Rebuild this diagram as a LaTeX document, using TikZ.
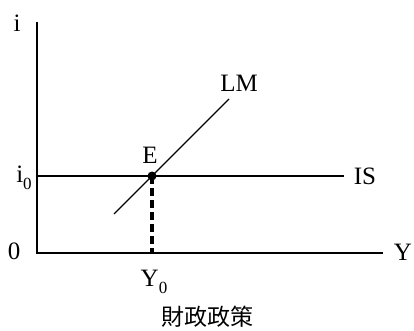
\documentclass[tikz,border=0pt]{standalone}
\usepackage{fontspec}
\setmainfont{Liberation Serif}
\newfontfamily\cjk{Noto Sans CJK TC}
\newcommand{\subz}{\raisebox{-0.28em}{\fontsize{17}{17}\selectfont 0}}
\begin{document}
\begin{tikzpicture}[x=1pt,y=-1pt,
  lbl/.style={font=\fontsize{25}{27}\selectfont, inner sep=0pt},
  axis/.style={line width=2pt},
  curve/.style={line width=1.3pt},
  guide/.style={line width=4pt, dash pattern=on 8pt off 4pt}]
\useasboundingbox (0,0) rectangle (414,331);
\coordinate (top) at (37,22);
\coordinate (O) at (37,253);
\coordinate (xend) at (383,253);
\draw[axis] (top) -- (O) -- (xend);
\coordinate (isL) at (37,176);
\coordinate (isR) at (344,176);
\draw[curve] (isL) -- (isR);
\coordinate (lmA) at (114,214);
\coordinate (lmB) at (229,99);
\draw[curve] (lmA) -- (lmB);
\coordinate (E) at (152,176);
\coordinate (Y0) at (152,253);
\draw[guide] (E) -- (Y0);
\fill (E) circle (4.5pt);
\node[lbl] (li) at (17,23) {i};
\node[lbl] (li0) at (24,178) {i\subz};
\node[lbl] (l0) at (14,251) {0};
\node[lbl] (lIS) at (365,176) {IS};
\node[lbl] (lLM) at (239,83) {LM};
\node[lbl] (lE) at (150,155) {E};
\node[lbl] (lY0) at (154,282) {Y\subz};
\node[lbl] (lY) at (403,252) {Y};
\node[font=\fontsize{23}{25}\selectfont, inner sep=0pt] (cap) at (207,317) {\cjk 財政政策};
\end{tikzpicture}
\end{document}
